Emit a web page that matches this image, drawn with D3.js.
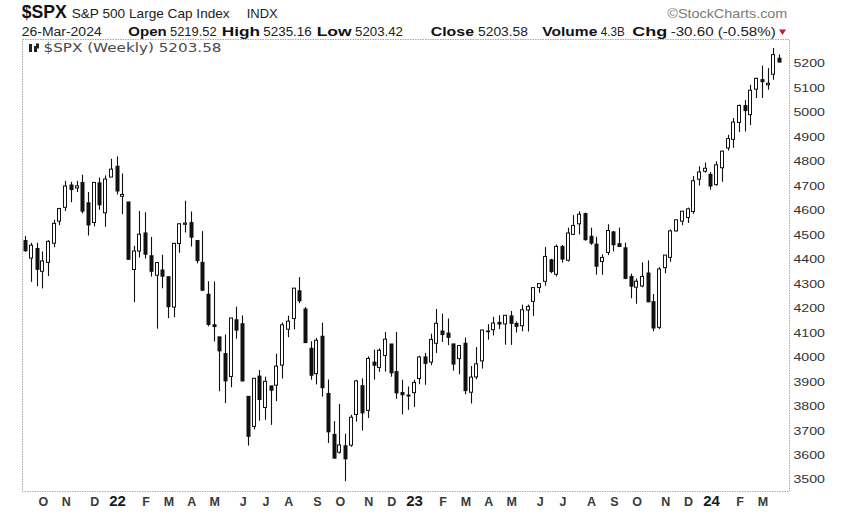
<!DOCTYPE html>
<html><head><meta charset="utf-8">
<script src="https://cdn.jsdelivr.net/npm/d3@7"></script>
<style>body{margin:0;background:#fff}svg{display:block}</style>
</head><body><svg id="c" width="848" height="513"></svg>
<script>
// ---- data (weekly $SPX, week of 13-Sep-2021 through 25-Mar-2024) ----
const firstWeek = "2021-09-13";
const lastWeek = "2024-03-25";
const opens = [
4474.81,4402.95,4442.12,4348.84,4385.44,4463.72,4553.69,4610.62,4701.48,4689.30,4712.00,4628.75,4548.37,4710.30,4587.90,4733.99,
4778.14,4655.34,4632.24,4356.32,4431.79,4505.75,4412.61,4332.74,4354.17,4327.01,4202.75,4462.40,4541.09,4547.97,4474.65,4385.63,4255.34,4130.61,4081.27,4013.02,3919.42,4151.09,4134.72,3838.15,3715.31,3920.76,3792.61,3880.94,3883.79,3965.72,4112.38,4155.93,4269.37,4195.08,4034.58,3930.89,4083.67,3849.91,3682.72,3609.78,3636.16,3638.65,3764.00,3881.85,3780.71,3977.97,3956.23,4005.36,4052.02,3939.29,3853.79,3843.34,
3853.29,3910.82,3999.28,3978.14,4055.00,4105.00,4096.62,4052.35,3992.36,4055.15,3855.00,3917.47,3982.93,4102.20,4110.29,4140.11,4134.00,4166.79,4136.00,4126.65,4190.78,4226.00,4282.99,4308.00,4396.00,4337.00,4450.00,4394.00,4500.00,4543.00,4584.82,4492.00,4460.00,4389.00,4426.00,4510.00,4462.00,4445.00,4328.00,4284.00,4289.00,4342.00,4225.00,4120.00,4364.00,4406.00,4514.00,4554.00,4569.00,4593.00,4725.00,4758.00,
4745.00,4703.00,4772.00,4853.00,4888.00,4957.00,5026.00,4989.00,5093.00,5132.00,5111.00,5154.00,5219.52];
const highs = [
4492.99,4465.40,4465.86,4429.97,4475.82,4559.67,4608.08,4718.50,4714.92,4718.50,4743.83,4672.95,4713.57,4731.99,4740.74,4808.93,
4818.62,4748.83,4632.24,4453.23,4595.31,4590.03,4489.55,4385.04,4416.78,4327.01,4465.40,4546.03,4637.30,4593.45,4474.65,4512.94,4308.45,4307.66,4081.27,4090.72,4158.49,4204.77,4168.78,3838.15,3913.65,3945.86,3918.50,3880.94,4012.44,4140.15,4167.66,4280.47,4325.28,4203.04,4062.99,4076.81,4139.37,3907.07,3736.74,3806.91,3685.41,3762.79,3905.42,3911.79,4001.48,4028.84,4034.02,4100.96,4052.45,4100.96,3906.00,3878.44,
3906.18,4003.95,4015.39,4094.21,4195.44,4176.54,4156.04,4052.35,4048.29,4078.49,3962.06,4039.49,4110.75,4133.13,4163.19,4169.48,4170.06,4186.92,4143.74,4212.91,4212.91,4281.15,4299.28,4448.47,4400.15,4458.48,4456.46,4527.56,4578.43,4594.22,4588.96,4527.37,4490.33,4418.46,4541.25,4514.29,4527.37,4466.36,4339.44,4319.70,4385.46,4393.57,4256.20,4365.98,4415.33,4520.12,4560.31,4595.21,4609.23,4738.57,4778.01,4793.30,
4754.33,4798.50,4842.07,4906.69,4975.29,5030.06,5048.39,5111.06,5140.33,5189.26,5179.14,5261.10,5235.16];
const lows = [
4427.76,4305.91,4288.52,4278.94,4329.92,4447.47,4537.36,4595.06,4630.86,4672.78,4585.43,4495.12,4532.42,4600.22,4531.10,4733.99,
4662.74,4582.24,4395.34,4222.62,4405.36,4401.41,4327.22,4114.65,4279.54,4157.87,4161.72,4424.30,4507.57,4450.04,4381.34,4267.62,4124.28,4062.51,3858.87,3810.32,3875.13,4073.85,3900.16,3636.87,3702.91,3738.67,3742.06,3721.56,3818.63,3910.74,4079.81,4112.09,4218.70,4057.66,3906.21,3886.75,3837.08,3647.47,3584.13,3604.09,3491.58,3632.00,3735.03,3698.15,3749.48,3906.54,3938.58,3939.00,3918.39,3827.74,3764.49,3783.04,
3794.33,3887.60,3885.54,3965.00,4015.55,4060.79,4047.48,3943.08,3928.16,3846.32,3808.86,3908.00,3951.53,4069.84,4086.87,4113.20,4049.35,4048.28,4098.92,4103.98,4103.00,4166.15,4261.07,4290.00,4341.34,4328.08,4384.00,4389.00,4497.00,4500.00,4474.55,4457.00,4335.31,4335.00,4414.98,4430.46,4448.00,4316.49,4238.63,4216.45,4283.79,4223.03,4103.78,4113.00,4341.00,4388.00,4511.00,4537.24,4546.50,4584.00,4699.00,4751.99,
4682.11,4699.00,4714.82,4842.00,4853.52,4918.00,4920.31,4946.00,5057.00,5056.82,5091.00,5131.59,5203.42];
const closes = [
4432.99,4455.48,4357.04,4391.34,4471.37,4544.90,4605.38,4697.53,4682.85,4697.96,4594.62,4538.43,4712.02,4620.64,4725.79,4766.18,
4677.03,4662.85,4397.94,4431.85,4500.53,4418.64,4348.87,4384.65,4328.87,4204.31,4463.12,4543.06,4545.86,4488.28,4392.59,4271.78,4131.93,4123.34,4023.89,3901.36,4158.24,4108.54,3900.86,3674.84,3911.74,3825.33,3899.38,3863.16,3961.63,4130.29,4145.19,4280.15,4228.48,4057.66,3924.26,4067.36,3873.33,3693.23,3585.62,3639.66,3583.07,3752.75,3901.06,3770.55,3992.93,3965.34,4026.12,4071.70,3934.38,3852.36,3844.82,3839.50,
3895.08,3999.09,3972.61,4070.56,4136.48,4090.46,4079.09,3970.04,4045.64,3861.59,3916.64,3970.99,4109.31,4105.02,4137.64,4133.52,4169.48,4136.25,4124.08,4191.98,4205.45,4282.37,4298.86,4409.59,4348.33,4450.38,4398.95,4505.42,4536.34,4582.23,4478.03,4464.05,4369.71,4405.71,4515.77,4457.49,4450.32,4320.06,4288.05,4308.50,4327.78,4224.16,4117.37,4358.34,4415.24,4514.02,4559.34,4594.63,4604.37,4719.19,4754.63,4769.83,
4697.24,4783.83,4839.81,4890.97,4958.61,5026.61,5005.57,5088.80,5137.08,5123.69,5117.09,5234.18,5203.58];
const yTicks = [3500,3600,3700,3800,3900,4000,4100,4200,4300,4400,4500,4600,4700,4800,4900,5000,5100,5200];
const monthLabels = ["O","N","D","22","F","M","A","M","J","J","A","S","O","N","D","23","F","M","A","M","J","J","A","S","O","N","D","24","F","M"];
const headerTitle = ["$SPX","S&P 500 Large Cap Index","INDX"];
const quoteDate = "26-Mar-2024";
const quoteLabels = ["Open","High","Low","Close","Volume","Chg"];
const quoteValues = ["5219.52","5235.16","5203.42","5203.58","4.3B","-30.60 (-0.58%)"];
const legendText = "$SPX (Weekly) 5203.58";

// ---- drawing ----
const svg = d3.select("#c");
const W = 848, H = 513;
const frame = {l:22, t:39.5, r:789, b:491.5};
const parse = d3.utcParse("%Y-%m-%d");
const dates = d3.utcMonday.range(parse(firstWeek), d3.utcDay.offset(parse(lastWeek),1));
const data = dates.map((d,i)=>({i, d, o:opens[i], h:highs[i], l:lows[i], c:closes[i]}));

const x = d3.scalePoint().domain(d3.range(data.length)).range([25.2, 779]);
const y = d3.scaleLinear().domain([3449.4, 5293.9]).range([frame.b, frame.t+0.5]);

svg.append("rect").attr("width",W).attr("height",H).attr("fill","#fff");

// frame
svg.append("rect").attr("x",frame.l+0.5).attr("y",frame.t).attr("width",frame.r-frame.l).attr("height",frame.b-frame.t)
  .attr("fill","none").attr("stroke","#a8a8a8").attr("stroke-width",1).attr("stroke-dasharray","1.5,1");

// candles
const g = svg.append("g");
const bw = 4;
data.forEach(d=>{
  const cx = Math.round(x(d.i));
  g.append("line").attr("x1",cx+0.5).attr("x2",cx+0.5).attr("y1",y(d.h)).attr("y2",y(d.l))
    .attr("stroke","#111").attr("stroke-width",1.1);
  const top = y(Math.max(d.o,d.c)), bot = y(Math.min(d.o,d.c));
  if (d.c >= d.o) {
    g.append("rect").attr("x",cx-1.5).attr("y",top).attr("width",bw-1).attr("height",Math.max(bot-top,0.5))
      .attr("fill","#fff").attr("stroke","#111").attr("stroke-width",1);
  } else {
    g.append("rect").attr("x",cx-1.5).attr("y",top-0.5).attr("width",bw).attr("height",Math.max(bot-top+1,1.5))
      .attr("fill","#111");
  }
});

// y axis labels (right)
const yAxis = d3.axisRight(y).tickValues(yTicks).tickSize(0).tickPadding(0).tickFormat(d3.format("d"));
const ya = svg.append("g").attr("transform",`translate(793.5,0)`).call(yAxis);
ya.select(".domain").remove();
ya.selectAll("text").attr("font-family","Liberation Sans, Arial, sans-serif").attr("font-size",11)
  .attr("fill","#333").attr("x",0).attr("dy","0.35em")
  .attr("textLength",31.5).attr("lengthAdjust","spacingAndGlyphs");

// x month labels
const monthStarts = [];
let prev = null;
data.forEach(d=>{
  const key = d.d.getUTCFullYear()*12 + d.d.getUTCMonth();
  if (prev !== null && key !== prev) monthStarts.push(d.i);
  prev = key;
});
const xg = svg.append("g");
monthStarts.slice(0, monthLabels.length).forEach((idx,k)=>{
  const lab = monthLabels[k];
  const isYear = /\d/.test(lab);
  xg.append("text").attr("x",x(idx)+1).attr("y",505.5).attr("text-anchor","middle")
    .attr("font-family","Liberation Sans Narrow, Liberation Sans, Arial, sans-serif")
    .attr("font-weight","bold").attr("font-size",isYear?15:12.5)
    .attr("fill",isYear?"#1a1a1a":"#3a3a3a").text(lab);
});

// header
const F = "Liberation Sans, Arial, sans-serif";
function txt(s, x0, y0, w, opts={}) {
  const t = svg.append("text").attr("x",x0).attr("y",y0).attr("font-family",opts.family||F)
    .attr("font-size",opts.size||12.5).attr("font-weight",opts.weight||"normal")
    .attr("fill",opts.fill||"#1a1a1a").text(s);
  if (w) t.attr("textLength",w).attr("lengthAdjust","spacingAndGlyphs");
  return t;
}
txt(headerTitle[0], 21.7, 18.4, 45, {size:18, weight:"bold", fill:"#111"});
txt(headerTitle[1], 71.7, 18.4, 158, {size:13, fill:"#222"});
txt(headerTitle[2], 246.7, 18.4, 31, {size:12, fill:"#222"});
txt("\u00A9StockCharts.com", 667.3, 18.4, 120, {size:13, fill:"#7a7a7a"});

txt(quoteDate, 21.7, 36, 80, {size:12.5, fill:"#222"});
const labX = [128.3, 221.7, 316.7, 430.7, 542.3, 632.3];
const labW = [38.4, 38.3, 35, 43.3, 55, 35];
const valX = [170, 263.3, 355, 478, 600.7, 670.7];
const valW = [46.7, 48.4, 48, 50, 24, 105];
quoteLabels.forEach((l,k)=>{
  txt(l, labX[k], 36, labW[k], {size:13.5, weight:"bold", fill:"#111"});
  txt(quoteValues[k], valX[k], 36, valW[k], {size:12.5, fill:"#222"});
});
svg.append("path").attr("d","M779,29.5 L786,29.5 L782.5,35 Z").attr("fill","#c8173a");

// legend inside the plot
svg.append("path").attr("d","M29,44 h3 v8 h-3 z M34,46 h3 v6 h-3 z M36,43.5 h3 v5 h-3 z").attr("fill","#222");
txt(legendText, 43.5, 51.5, 178, {size:11.5, family:"DejaVu Sans, Verdana, sans-serif", fill:"#4a4a4a"});
</script></body></html>
